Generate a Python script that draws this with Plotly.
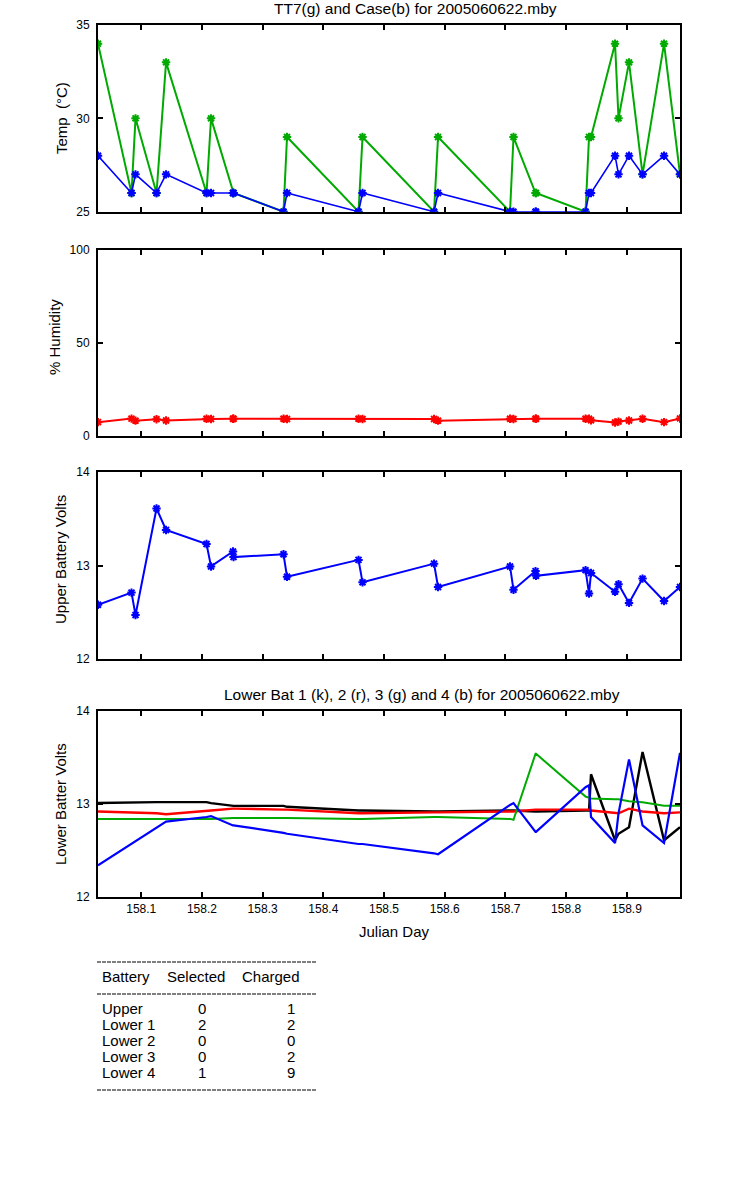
import plotly.graph_objects as go

# sample times (julian day)
days = [158.0288, 158.0840, 158.0906, 158.1252, 158.1409, 158.2076, 158.2150,
        158.2512, 158.2521, 158.3344, 158.3402, 158.4580, 158.4646, 158.5824,
        158.5890, 158.7076, 158.7133, 158.7496, 158.7504, 158.8320, 158.8377,
        158.8410, 158.8806, 158.8863, 158.9036, 158.9259, 158.9613, 158.9876]

# temperatures
tt7 = [34, 26, 30, 26, 33, 26, 30, 26, 26, 25, 29, 25, 29, 25,
       29, 25, 29, 26, 26, 25, 29, 29, 34, 30, 33, 27, 34, 27]
case_temp = [28, 26, 27, 26, 27, 26, 26, 26, 26, 25, 26, 25, 26, 25,
             26, 25, 25, 25, 25, 25, 26, 26, 28, 27, 28, 27, 28, 27]

humidity = [7.2, 9.1, 8.0, 8.8, 8.1, 9.0, 8.9, 9.0, 9.0, 9.0, 8.9, 9.0, 8.9, 8.9,
            8.0, 9.0, 8.9, 9.0, 9.0, 9.0, 9.0, 8.2, 7.0, 7.5, 8.1, 9.0, 7.2, 9.2]

upper_volts = [12.58, 12.71, 12.47, 13.61, 13.38, 13.23, 12.99, 13.15, 13.09, 13.12,
               12.88, 13.06, 12.82, 13.02, 12.77, 12.99, 12.74, 12.94, 12.89, 12.95,
               12.70, 12.92, 12.72, 12.80, 12.60, 12.86, 12.62, 12.77]

lower1 = [13.01, 13.02, 13.02, 13.02, 13.02, 13.02, 13.01, 12.98, 12.98, 12.98,
          12.97, 12.93, 12.93, 12.92, 12.92, 12.93, 12.93, 12.92, 12.92, 12.93,
          12.93, 13.32, 12.61, 12.68, 12.75, 13.56, 12.61, 12.75]
lower2 = [12.92, 12.91, 12.91, 12.90, 12.89, 12.92, 12.93, 12.95, 12.95, 12.94,
          12.94, 12.90, 12.90, 12.91, 12.91, 12.92, 12.92, 12.94, 12.94, 12.94,
          12.94, 12.93, 12.90, 12.90, 12.95, 12.92, 12.90, 12.91]
lower3 = [12.84, 12.84, 12.84, 12.84, 12.84, 12.84, 12.84, 12.85, 12.85, 12.85,
          12.85, 12.84, 12.84, 12.86, 12.86, 12.84, 12.83, 13.54, 13.54, 13.08,
          13.07, 13.06, 13.05, 13.05, 13.03, 13.02, 12.98, 12.98]
lower4 = [12.34, 12.57, 12.60, 12.74, 12.81, 12.86, 12.87, 12.77, 12.77, 12.69,
          12.68, 12.57, 12.57, 12.47, 12.46, 12.99, 13.01, 12.70, 12.70, 13.18,
          13.20, 12.86, 12.58, 12.90, 13.48, 12.77, 12.58, 13.55]

# summary table
battery_names = ["Upper", "Lower 1", "Lower 2", "Lower 3", "Lower 4"]
selected = [0, 2, 0, 0, 1]
charged = [1, 2, 0, 2, 9]

x_ticks = [158.1, 158.2, 158.3, 158.4, 158.5, 158.6, 158.7, 158.8, 158.9]

GREEN = "rgb(0,170,0)"
BLUE = "rgb(0,0,255)"
RED = "rgb(255,0,0)"
FONT = "Liberation Sans, Arial, sans-serif"

W, H = 750, 1200
LEFT, RIGHT = 98, 680


def px_x(p):
    return (p - LEFT) / (RIGHT - LEFT)


def px_y(p):
    return 1 - p / H


fig = go.Figure()


def star_line(x, y, color, axis, width=2):
    fig.add_trace(go.Scatter(
        x=x, y=y, mode="lines+markers", xaxis="x" + axis, yaxis="y" + axis,
        line=dict(color=color, width=width),
        marker=dict(symbol="asterisk-open", size=7, color=color,
                    line=dict(color=color, width=2)),
        showlegend=False, hoverinfo="skip"))


star_line(days, tt7, GREEN, "", 2)
star_line(days, case_temp, BLUE, "", 1.6)
star_line(days, humidity, RED, "2", 2)
star_line(days, upper_volts, BLUE, "3", 2)

for series, color, lw in [(lower1, "black", 2.4), (lower2, RED, 2.4),
                          (lower3, GREEN, 2), (lower4, BLUE, 2.2)]:
    fig.add_trace(go.Scatter(x=days, y=series, mode="lines", xaxis="x4", yaxis="y4",
                             line=dict(color=color, width=lw),
                             showlegend=False, hoverinfo="skip"))

# panel pixel extents (top, bottom)
panels = [(25, 211.7, [25, 35], [25, 30, 35]),
          (250, 435.5, [0, 100], [0, 50, 100]),
          (472, 659, [12, 14], [12, 13, 14]),
          (711, 897, [12, 14], [12, 13, 14])]

axis_style = dict(showline=True, linecolor="black", linewidth=2, mirror="ticks",
                  ticks="inside", ticklen=5, tickwidth=2, tickcolor="black",
                  showgrid=False, zeroline=False,
                  tickfont=dict(family=FONT, size=12, color="black"))

layout = {}
for i, (top, bottom, yr, yt) in enumerate(panels):
    n = "" if i == 0 else str(i + 1)
    layout["xaxis" + n] = dict(axis_style, domain=[0, 1], anchor="y" + n,
                               range=[days[0], days[-1]], tickvals=x_ticks,
                               ticktext=[f"{t:.1f}" for t in x_ticks],
                               showticklabels=(i == 3))
    layout["yaxis" + n] = dict(axis_style, domain=[px_y(bottom), px_y(top)],
                               anchor="x" + n, range=yr, tickvals=yt,
                               ticklabelstandoff=4)

fig.update_layout(**layout)

annotations = []
title_font = dict(family=FONT, size=15.5, color="black")
label_font = dict(family=FONT, size=15, color="black")


def note(text, xp, yp, font, xanchor="center", angle=0):
    annotations.append(dict(text=text, x=px_x(xp), y=px_y(yp), xref="paper", yref="paper",
                            xanchor=xanchor, yanchor="middle", textangle=angle,
                            showarrow=False, font=font))


note("TT7(g) and Case(b) for 2005060622.mby", 415, 9, title_font)
note("Lower Bat 1 (k), 2 (r), 3 (g) and 4 (b) for 2005060622.mby", 422, 694, title_font)
note("Julian Day", 394, 931, label_font)

for text, xp, yp in [("Temp\u00a0 (°C)", 61, 118), ("% Humidity", 55, 337),
                     ("Upper Battery Volts", 60, 560), ("Lower Batter Volts", 60, 804)]:
    note(text, xp, yp, label_font, angle=-90)

# table text
table_font = dict(family=FONT, size=15, color="black")
for text, xp in [("Battery", 100), ("Selected", 165), ("Charged", 240)]:
    note(text, xp, 976, table_font, xanchor="left")
for k, name in enumerate(battery_names):
    yp = 1008 + 16 * k
    note(name, 100, yp, table_font, xanchor="left")
    note(str(selected[k]), 202, yp, table_font)
    note(str(charged[k]), 291, yp, table_font)

shapes = []
for yp in [962, 994, 1090]:
    shapes.append(dict(type="line", xref="paper", yref="paper",
                       x0=px_x(97), x1=px_x(317), y0=px_y(yp), y1=px_y(yp),
                       line=dict(color="black", width=1, dash="4px,1px")))

fig.update_layout(
    width=W, height=H,
    margin=dict(l=LEFT, r=W - RIGHT, t=0, b=0, autoexpand=False),
    paper_bgcolor="white", plot_bgcolor="white",
    annotations=annotations, shapes=shapes,
    font=dict(family=FONT, color="black"),
)

# drop the browser's default body margin so the figure fills the window
fig.write_html("out.html", config={"displayModeBar": False},
               post_script="document.body.style.margin = '0';")
